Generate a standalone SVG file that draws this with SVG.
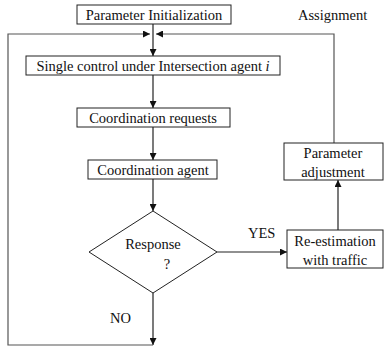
<svg xmlns="http://www.w3.org/2000/svg" width="384" height="349" viewBox="0 0 384 349">
  <style>
    .box { fill: #fff; stroke: #222; stroke-width: 1; }
    .line { fill: none; stroke: #222; stroke-width: 1.2; }
    .loop { fill: none; stroke: #555; stroke-width: 1.2; }
    .c { text-anchor: middle; }
  </style>
  <defs>
    <marker id="arrow" viewBox="0 0 10 10" refX="10" refY="5" markerWidth="7" markerHeight="7" markerUnits="userSpaceOnUse" orient="auto">
      <path d="M0,0 L10,5 L0,10 z" fill="#111"/>
    </marker>
  </defs>

  <g id="connectors">
    <!-- main flow -->
    <path class="line" d="M153,24 V56" marker-end="url(#arrow)"/>
    <path class="line" d="M153,75 V108" marker-end="url(#arrow)"/>
    <path class="line" d="M153,127 V160" marker-end="url(#arrow)"/>
    <path class="line" d="M153,179 V211" marker-end="url(#arrow)"/>
    <!-- YES branch -->
    <path class="line" d="M217,252 H287" marker-end="url(#arrow)"/>
    <path class="line" d="M338,230 V180" marker-end="url(#arrow)"/>
    <path class="loop" d="M334,143 V34 H156" marker-end="url(#arrow)"/>
    <!-- NO branch back to the top -->
    <path class="line" d="M153,293 V345" marker-end="url(#arrow)"/>
    <path class="loop" d="M153,345 H8 V34 H150" marker-end="url(#arrow)"/>
  </g>

  <g font-family="'Liberation Serif', 'DejaVu Serif', serif" font-size="14.5" fill="#111">
    <g id="param-init">
      <rect class="box" x="77" y="5" width="154" height="19"/>
      <text class="c" x="154" y="19.5">Parameter Initialization</text>
    </g>

    <g id="assignment">
      <text x="298" y="19.5">Assignment</text>
    </g>

    <g id="single-control">
      <rect class="box" x="26" y="56" width="254" height="19"/>
      <text class="c" x="153" y="70.5">Single control under Intersection agent <tspan font-style="italic">i</tspan></text>
    </g>

    <g id="coord-requests">
      <rect class="box" x="77" y="108" width="153" height="19"/>
      <text class="c" x="153" y="122.5">Coordination requests</text>
    </g>

    <g id="coord-agent">
      <rect class="box" x="88" y="160" width="129" height="19"/>
      <text class="c" x="153" y="174.5">Coordination agent</text>
    </g>

    <g id="response">
      <path class="box" d="M153,211 L217,252 L153,293 L89,252 Z"/>
      <text class="c" x="153" y="249">Response</text>
      <text class="c" x="167" y="269">?</text>
    </g>

    <g id="re-estimation">
      <rect class="box" x="287" y="230" width="96" height="38"/>
      <text class="c" x="335" y="246">Re-estimation</text>
      <text class="c" x="335" y="265">with traffic</text>
    </g>

    <g id="param-adjust">
      <rect class="box" x="284" y="143" width="99" height="37"/>
      <text class="c" x="333" y="158">Parameter</text>
      <text class="c" x="333" y="177">adjustment</text>
    </g>

    <g id="labels">
      <text x="248" y="238">YES</text>
      <text x="110" y="323">NO</text>
    </g>
  </g>
</svg>
